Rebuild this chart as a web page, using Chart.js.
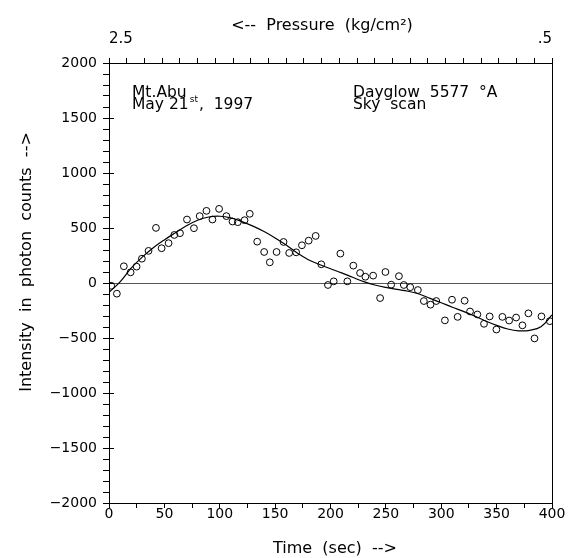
<!DOCTYPE html>
<html>
<head>
<meta charset="utf-8">
<script src="https://cdn.jsdelivr.net/npm/chart.js@4.4.1/dist/chart.umd.min.js"></script>
<style>
html,body{margin:0;padding:0;background:#fff;}
canvas{display:block;}
</style>
</head>
<body>
<canvas id="c" width="568" height="558"></canvas>
<script>
// Observed sky-scan intensity (time in sec, photon counts)
const timeSec = [2.0,7.1,13.4,19.5,24.9,29.7,35.7,42.4,47.5,53.8,59.0,64.1,70.4,76.7,81.9,88.0,93.4,99.4,106.0,111.5,116.3,122.4,127.1,133.8,140.1,145.2,151.3,157.6,162.7,169.0,174.2,180.3,186.6,191.7,197.7,202.9,208.9,215.2,220.6,226.7,231.5,238.5,244.8,249.6,254.8,261.8,266.2,272.0,278.9,284.3,290.3,295.5,303.3,309.7,314.8,321.1,326.0,332.6,338.6,343.7,349.8,355.2,361.3,367.6,373.3,378.7,384.2,390.5,398.0];
const counts  = [-25,-97,152,97,149,221,292,501,316,362,437,453,577,498,608,656,577,674,608,559,553,571,629,376,282,188,282,373,273,279,343,385,428,170,-18,15,267,15,158,91,57,67,-137,100,-15,62,-18,-38,-64,-164,-197,-164,-340,-152,-308,-161,-259,-286,-371,-304,-423,-308,-341,-314,-385,-276,-504,-304,-347];

// Fitted curve
const fitTime   = [0,10,20,30,40,50,60,70,80,90,100,110,120,130,140,150,160,170,180,190,200,210,220,230,240,250,260,270,280,290,300,310,320,330,340,350,360,370,380,390,400];
const fitCounts = [-85,10,135,235,320,392,457,520,570,600,607,592,558,517,468,410,345,272,212,168,130,92,52,12,-18,-40,-58,-75,-100,-140,-180,-220,-258,-300,-345,-385,-418,-435,-430,-398,-290];

// Axis ticks / labels
const yLabelStep = 500;
const xLabelStep = 50;
const topTickStep = 16;
const pressureLabels = ['2.5', '.5'];

const FONT = '"DejaVu Sans", "Liberation Sans", sans-serif';

const extras = {
  id: 'extras',
  afterDraw(chart) {
    const ctx = chart.ctx;
    const area = chart.chartArea;
    const ys = chart.scales.y;
    ctx.save();
    // inner part of major y ticks
    ctx.strokeStyle = '#000';
    ctx.lineWidth = 1;
    for (let v = -2000; v <= 2000; v += yLabelStep) {
      const py = Math.round(ys.getPixelForValue(v)) + 0.5;
      ctx.beginPath();
      ctx.moveTo(area.left, py);
      ctx.lineTo(area.left + 5, py);
      ctx.stroke();
    }
    ctx.fillStyle = '#000';
    ctx.textBaseline = 'alphabetic';
    // top title
    ctx.font = '16px ' + FONT;
    ctx.textAlign = 'center';
    ctx.fillText('<--  Pressure  (kg/cm²)', 322, 30);
    // bottom title
    ctx.fillText('Time  (sec)  -->', 335, 553);
    // y title
    ctx.save();
    ctx.translate(31, 262);
    ctx.rotate(-Math.PI / 2);
    ctx.fillText('Intensity  in  photon  counts  -->', 0, 0);
    ctx.restore();
    // annotations
    ctx.textAlign = 'left';
    ctx.font = '15.5px ' + FONT;
    ctx.fillText('Mt.Abu', 132, 97);
    let x = 132;
    const s1 = 'May 21';
    ctx.fillText(s1, x, 108.5);
    x += ctx.measureText(s1).width + 1;
    ctx.font = '9px ' + FONT;
    ctx.fillText('st', x, 102);
    x += ctx.measureText('st').width + 1;
    ctx.font = '15.5px ' + FONT;
    ctx.fillText(',  1997', x, 108.5);
    ctx.fillText('Dayglow  5577  °A', 353, 97);
    ctx.fillText('Sky  scan', 353, 108.5);
    ctx.restore();
  }
};

const tickFont = { family: FONT, size: 14 };

new Chart(document.getElementById('c'), {
  type: 'scatter',
  data: {
    datasets: [
      {
        label: 'fit',
        data: fitTime.map((t, i) => ({ x: t, y: fitCounts[i] })),
        showLine: true,
        borderColor: '#000',
        borderWidth: 1.2,
        pointRadius: 0,
        tension: 0.4,
        fill: false,
        order: 2
      },
      {
        label: 'observed',
        data: timeSec.map((t, i) => ({ x: t, y: counts[i] })),
        showLine: false,
        pointRadius: 3.4,
        pointBorderWidth: 1,
        borderColor: '#000',
        backgroundColor: 'rgba(0,0,0,0)',
        order: 1
      }
    ]
  },
  options: {
    responsive: false,
    animation: false,
    devicePixelRatio: 1,
    layout: { padding: { left: 0, right: 16, top: 0, bottom: 0 } },
    plugins: { legend: { display: false }, tooltip: { enabled: false } },
    scales: {
      x: {
        type: 'linear', position: 'bottom', min: 0, max: 400,
        afterFit: s => { s.height = 55; },
        ticks: {
          stepSize: 25, autoSkip: false, maxRotation: 0, minRotation: 0,
          font: tickFont, color: '#000', padding: -2,
          callback: v => (v % xLabelStep === 0 ? String(v) : '')
        },
        grid: { drawOnChartArea: false, drawTicks: true, tickLength: 5, tickColor: '#000' },
        border: { display: true, color: '#000', width: 1 }
      },
      x2: {
        type: 'linear', position: 'top', min: 0, max: 400,
        afterFit: s => { s.height = 63; },
        ticks: {
          stepSize: topTickStep, autoSkip: false, maxRotation: 0, minRotation: 0, align: 'inner',
          font: { family: FONT, size: 15 }, color: '#000', padding: 10,
          callback: v => (v === 0 ? pressureLabels[0] : (v === 400 ? pressureLabels[1] : ''))
        },
        grid: { drawOnChartArea: false, drawTicks: true, tickLength: 5, tickColor: '#000' },
        border: { display: true, color: '#000', width: 1 }
      },
      y: {
        type: 'linear', position: 'left', min: -2000, max: 2000,
        afterFit: s => { s.width = 109; },
        ticks: {
          stepSize: 100, autoSkip: false, font: tickFont, color: '#000', padding: 6,
          callback: v => (v % yLabelStep === 0 ? String(v).replace('-', '\u2212') : '')
        },
        grid: {
          drawOnChartArea: true, drawTicks: true, tickLength: 6, tickColor: '#000',
          color: c => (c.tick && c.tick.value === 0 ? '#555' : 'rgba(0,0,0,0)'),
          lineWidth: 1
        },
        border: { display: true, color: '#000', width: 1 }
      },
      yR: {
        type: 'linear', position: 'right', min: -2000, max: 2000,
        afterFit: s => { s.width = 0; },
        ticks: { display: false },
        grid: { drawOnChartArea: false, drawTicks: false },
        border: { display: true, color: '#000', width: 1 }
      }
    }
  },
  plugins: [extras]
});
</script>
</body>
</html>
